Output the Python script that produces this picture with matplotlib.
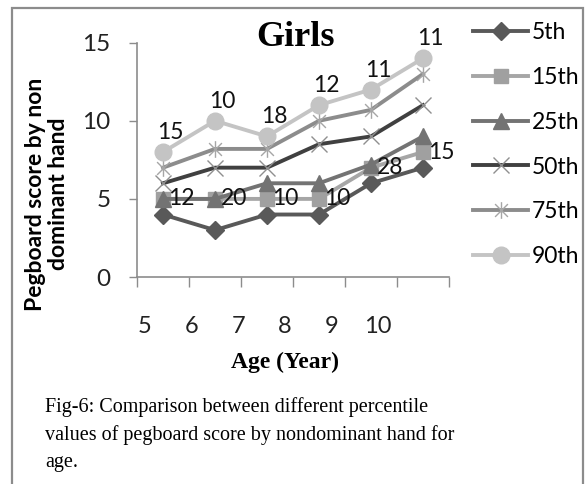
import matplotlib
matplotlib.use("Agg")
import matplotlib.pyplot as plt
from matplotlib.path import Path
from matplotlib.patches import Rectangle

# ---------------- data ----------------
ages = [5, 6, 7, 8, 9, 10]
series_names = ["5th", "15th", "25th", "50th", "75th", "90th"]
p5 = [4, 3, 4, 4, 6, 7]
p15 = [5, 5, 5, 5, 7, 8]
p25 = [5, 5, 6, 6, 7.2, 9]
p50 = [6, 7, 7, 8.5, 9, 11]
p75 = [7, 8.2, 8.2, 10, 10.7, 13]
p90 = [8, 10, 9, 11, 12, 14]
labels_90 = ["15", "10", "18", "12", "11", "11"]
labels_15 = ["12", "20", "10", "10", "28", "15"]
yticks = [0, 5, 10, 15]

title = "Girls"
ylabel = "Pegboard score by non\ndominant hand"
xlabel = "Age (Year)"
caption = ["Fig-6: Comparison between different percentile",
           "values of pegboard score by nondominant hand for",
           "age."]

# ---------------- styling ----------------
W, H = 585, 484
fig = plt.figure(figsize=(W / 100, H / 100), dpi=100)
fig.patch.set_facecolor("white")

SANS = ["Lato", "DejaVu Sans"]
SERIF = ["Liberation Serif", "DejaVu Serif"]

# outer frame
fig.add_artist(Rectangle((12 / W, -0.1), (583 - 12) / W, 1.1 - 8 / H,
                         transform=fig.transFigure, fill=False,
                         edgecolor="#8c8c8c", linewidth=1.6))

ax = fig.add_axes([137 / W, 1 - 277 / H, (449 - 137) / W, (277 - 42.7) / H])
ax.set_facecolor("none")

# custom star (x plus vertical bar)
star_path = Path([(-1, -1), (1, 1), (-1, 1), (1, -1), (0, -1.3), (0, 1.3)],
                 [Path.MOVETO, Path.LINETO, Path.MOVETO, Path.LINETO,
                  Path.MOVETO, Path.LINETO])

styles = [
    dict(color="#595959", marker="D", ms=9, mfc="#595959", mec="#595959", mew=1),
    dict(color="#a6a6a6", marker="s", ms=10, mfc="#a0a0a0", mec="#a0a0a0", mew=1),
    dict(color="#737373", marker="^", ms=11, mfc="#737373", mec="#737373", mew=1),
    dict(color="#404040", marker="x", ms=11, mfc="none", mec="#8f8f8f", mew=1.0),
    dict(color="#8c8c8c", marker=star_path, ms=12, mfc="none", mec="#a6a6a6", mew=1.0),
    dict(color="#c4c4c4", marker="o", ms=12, mfc="#c4c4c4", mec="#c4c4c4", mew=1),
]
all_series = [p5, p15, p25, p50, p75, p90]
x = list(range(len(ages)))
handles = []
for name, vals, st in zip(series_names, all_series, styles):
    h, = ax.plot(x, vals, linewidth=2.8, label=name, zorder=3, **st)
    handles.append(h)

# data labels
for xi, v, lab in zip(x, p90, labels_90):
    ax.annotate(lab, (xi, v), xytext=(5, 14), textcoords="offset points",
                ha="center", va="center", fontsize=16.5, family=SANS,
                color="#111111", zorder=5)
for xi, v, lab in zip(x, p15, labels_15):
    ax.annotate(lab, (xi, v), xytext=(4, 0), textcoords="offset points",
                ha="left", va="center", fontsize=16.5, family=SANS,
                color="#111111", zorder=5)

# axes
ax.set_xlim(-0.5, len(ages) - 0.5)
ax.set_ylim(0, 15)
ax.set_yticks(yticks)
ax.set_yticklabels([str(t) for t in yticks], fontsize=17.5, family=SANS,
                   color="#222222")
ax.tick_params(axis="y", direction="out", length=6, width=1, color="#8c8c8c",
               pad=13)
ax.set_xticks([i - 0.5 for i in range(len(ages) + 1)])
ax.set_xticklabels([])
ax.tick_params(axis="x", direction="out", length=7, width=1, color="#8c8c8c")
for s in ["top", "right"]:
    ax.spines[s].set_visible(False)
for s in ["left", "bottom"]:
    ax.spines[s].set_color("#8c8c8c")
    ax.spines[s].set_linewidth(1.2)

# age labels (rendered slightly compressed as in the original)
off, step = -0.346, 0.896
sec = ax.secondary_xaxis("bottom",
                         functions=(lambda p: ages[0] + (p - off) / step,
                                    lambda v: off + (v - ages[0]) * step))
sec.set_xticks(ages)
sec.set_xticklabels([str(a) for a in ages], fontsize=17, family=SANS,
                    color="#222222")
sec.tick_params(length=0, pad=28)
sec.spines["bottom"].set_visible(False)

# title, axis labels
fig.text(295 / W, 1 - 38 / H, title, ha="center", va="center",
         fontsize=26, fontweight="bold", family=SERIF)
fig.text(47 / W, 1 - 194 / H, ylabel, ha="center", va="center", rotation=90,
         fontsize=16.5, fontweight="bold", family=SANS, linespacing=1.1,
         multialignment="center")
fig.text(285 / W, 1 - 362 / H, xlabel, ha="center", va="center",
         fontsize=17, fontweight="bold", family=SERIF)
for i, line in enumerate(caption):
    fig.text(45 / W, 1 - (407 + 28 * i) / H, line, ha="left", va="center",
             fontsize=14.5, family=SERIF)

# legend
leg = fig.legend(handles=handles, loc="upper left",
                 bbox_to_anchor=(473 / W, 1 - 22 / H), frameon=False,
                 prop={"family": SANS, "size": 16.5}, handlelength=2.4,
                 handletextpad=0.15, labelspacing=1.04, borderpad=0,
                 borderaxespad=0)

fig.savefig("out.png", dpi=100, facecolor="white")
